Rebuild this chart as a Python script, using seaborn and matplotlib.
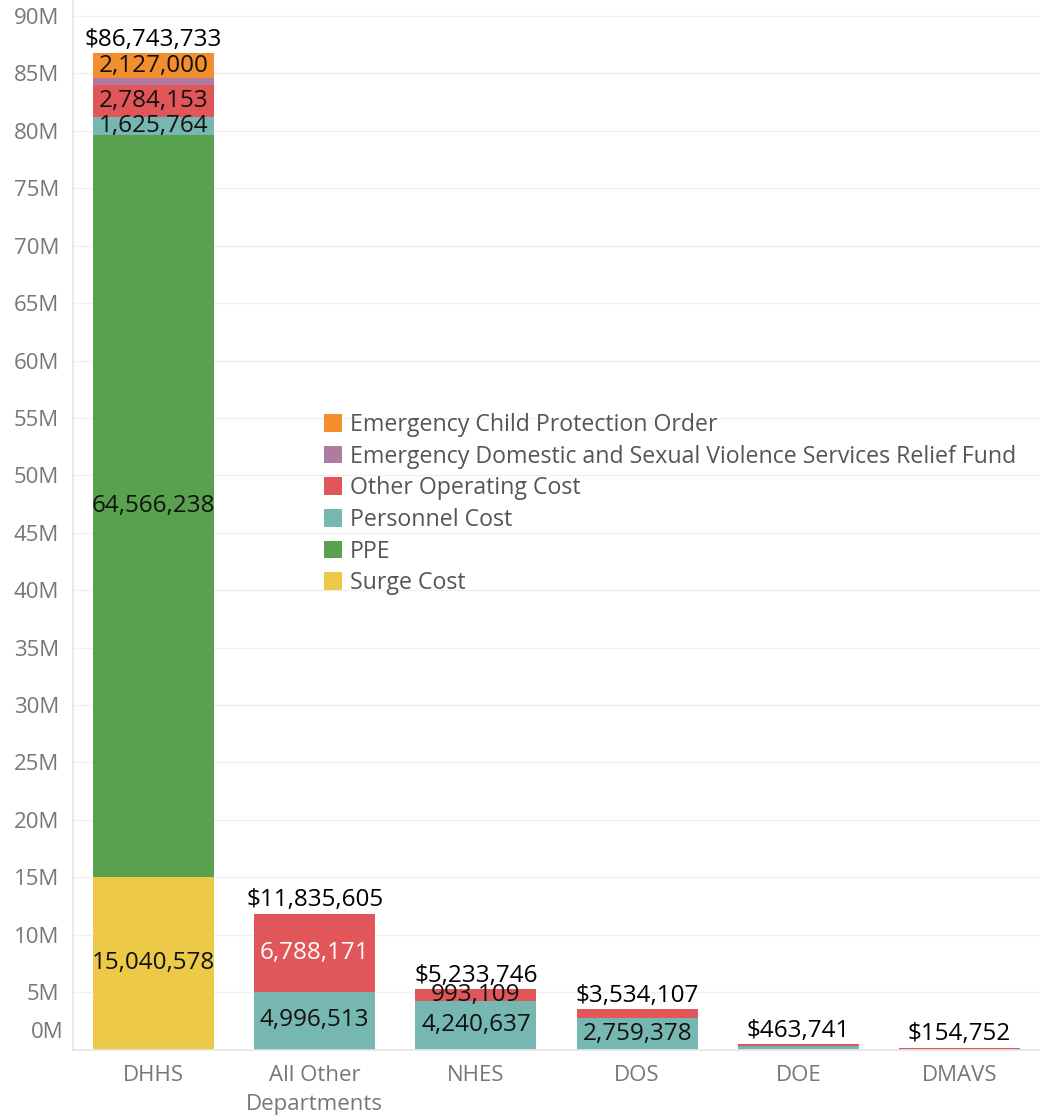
import numpy as np
import pandas as pd
import matplotlib
matplotlib.use("Agg")
import matplotlib.pyplot as plt
from matplotlib.patches import Patch
import seaborn as sns

departments = ["DHHS", "All Other\nDepartments", "NHES", "DOS", "DOE", "DMAVS"]
segments = ["Surge Cost", "PPE", "Personnel Cost", "Other Operating Cost",
            "Emergency Domestic and Sexual Violence Services Relief Fund",
            "Emergency Child Protection Order"]
surge_cost = [15040578, 0, 0, 0, 0, 0]
ppe = [64566238, 50921, 0, 0, 0, 0]
personnel_cost = [1625764, 4996513, 4240637, 2759378, 270000, 0]
other_operating = [2784153, 6788171, 993109, 774729, 193741, 154752]
domestic_violence_fund = [600000, 0, 0, 0, 0, 0]
child_protection = [2127000, 0, 0, 0, 0, 0]
totals = [86743733, 11835605, 5233746, 3534107, 463741, 154752]
legend_order = ["Emergency Child Protection Order",
                "Emergency Domestic and Sexual Violence Services Relief Fund",
                "Other Operating Cost", "Personnel Cost", "PPE", "Surge Cost"]

series = [surge_cost, ppe, personnel_cost, other_operating,
          domestic_violence_fund, child_protection]
colors = {
    "Emergency Child Protection Order": "#F28E2B",
    "Emergency Domestic and Sexual Violence Services Relief Fund": "#B07AA1",
    "Other Operating Cost": "#E15759",
    "Personnel Cost": "#76B7B2",
    "PPE": "#59A14F",
    "Surge Cost": "#EDC948",
}
white_labels = {("All Other\nDepartments", "Other Operating Cost")}

sns.set_theme(style="white")
FONT = ["Open Sans", "DejaVu Sans"]
plt.rcParams["font.family"] = FONT

TICK_FS = 16
BAR_FS = 17.5
LEG_FS = 16.7

fig = plt.figure(figsize=(10.4, 11.18), dpi=100)
ax = fig.add_axes([73 / 1040, (1118 - 1049.5) / 1118, 967 / 1040, 1049.5 / 1118])

bottoms = np.zeros(len(departments))
for seg, vals in zip(segments, series):
    df = pd.DataFrame({"dept": departments, "value": vals})
    sns.barplot(data=df, x="dept", y="value", order=departments, bottom=bottoms.copy(),
                color=colors[seg], width=0.75, linewidth=0, errorbar=None,
                saturation=1, ax=ax)
    for i, v in enumerate(vals):
        if v >= 900000:
            c = "white" if (departments[i], seg) in white_labels else "#111111"
            ax.text(i, bottoms[i] + v / 2, f"{v:,}", ha="center", va="center",
                    fontsize=BAR_FS, color=c)
    bottoms += np.array(vals, dtype=float)

for i, t in enumerate(totals):
    ax.annotate(f"${t:,}", (i, t), xytext=(0, 1), textcoords="offset points",
                ha="center", va="bottom", fontsize=BAR_FS, color="#000000")

ax.set_xlim(-0.5, 5.5)
ax.set_ylim(0, 91.4e6)
yt = np.arange(0, 90e6 + 1, 5e6)
ax.set_yticks(yt)
ax.set_yticklabels([""] + [f"{int(v/1e6)}M" for v in yt[1:]])
ax.annotate("0M", xy=(0, 0), xycoords=("axes fraction", "data"),
            xytext=(-10, 17), textcoords="offset pixels",
            ha="right", va="center", fontsize=TICK_FS, color="#777777")
ax.tick_params(axis="y", length=0, pad=10, labelsize=TICK_FS, labelcolor="#777777")
ax.tick_params(axis="x", length=0, pad=11, labelsize=TICK_FS, labelcolor="#777777")
for lbl in ax.get_xticklabels():
    lbl.set_linespacing(1.5)
ax.set_xticks(np.arange(-0.5, 6, 1), minor=True)
ax.tick_params(axis="x", which="minor", length=7, color="#e6e6e6", width=1)
ax.set_xlabel("")
ax.set_ylabel("")
ax.grid(axis="y", color="#f0f0f0", linewidth=1)
ax.set_axisbelow(True)
for s in ["top", "right"]:
    ax.spines[s].set_visible(False)
ax.spines["left"].set_color("#e6e6e6")
ax.spines["bottom"].set_color("#e6e6e6")

handles = [Patch(facecolor=colors[s], edgecolor="none", label=s) for s in legend_order]
leg = ax.legend(handles=handles, loc="upper left", bbox_to_anchor=(0.2596, 0.6065),
                frameon=False, fontsize=LEG_FS, handlelength=0.78, handleheight=0.78,
                handletextpad=0.33, labelspacing=0.33, borderpad=0, borderaxespad=0)
for t in leg.get_texts():
    t.set_color("#555555")

fig.savefig("out.png", dpi=100)
